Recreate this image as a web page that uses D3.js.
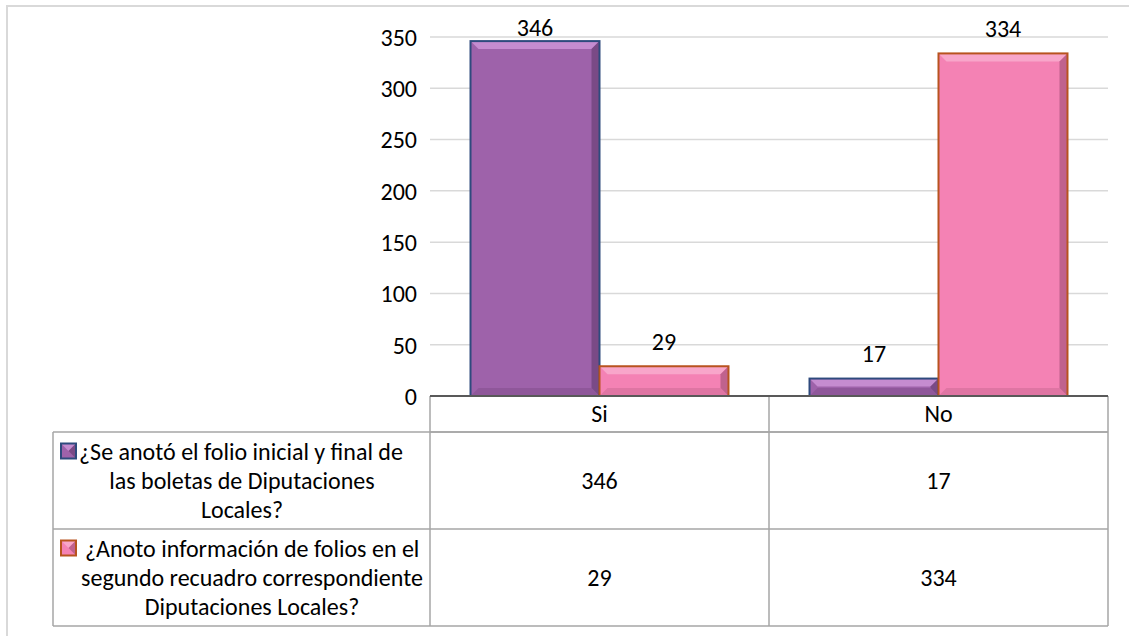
<!DOCTYPE html>
<html><head><meta charset="utf-8">
<script src="https://cdn.jsdelivr.net/npm/d3@7"></script>
<style>html,body{margin:0;padding:0;background:#fff;} svg{display:block;font-family:Carlito,Lato,"Open Sans",sans-serif;}</style>
</head><body>
<script>
const categories = ["Si", "No"];
const seriesNames = [
  ["¿Se anotó el folio inicial y final de", "las boletas de Diputaciones", "Locales?"],
  ["¿Anoto información de folios en el", "segundo recuadro correspondiente", "Diputaciones Locales?"]
];
const seriesA = [346, 17];
const seriesB = [29, 334];
const yTicks = [0, 50, 100, 150, 200, 250, 300, 350];

const W = 1129, H = 636;
const svg = d3.select("body").append("svg").attr("width", W).attr("height", H);
const FS = 24;
const palette = [
  {face:"#9e62aa", light:"#c58cd0", dark:"#7a4a86", bottom:"#85508f", stroke:"#2e4a7d"},
  {face:"#f482b4", light:"#f8a6ca", dark:"#c0628d", bottom:"#d06c98", stroke:"#b8531f"}
];
const series = [seriesA, seriesB];

// outer frame
svg.append("rect").attr("x",7).attr("y",6).attr("width",W).attr("height",H)
  .attr("fill","none").attr("stroke","#d9d9d9").attr("stroke-width",2);

const x0 = d3.scaleBand().domain(categories).range([430,1108]).paddingInner(0).paddingOuter(0);
const x1 = d3.scaleBand().domain([0,1]).range([0, x0.bandwidth()]).paddingOuter(0.314).paddingInner(0);
const y = d3.scaleLinear().domain([0,350]).range([396,37]);

// gridlines
svg.append("g").selectAll("line").data(yTicks.filter(d=>d>0)).join("line")
  .attr("x1",430).attr("x2",1108).attr("y1",d=>y(d)).attr("y2",d=>y(d))
  .attr("stroke","#d9d9d9").attr("stroke-width",1.5);

// y axis labels
const yAxis = d3.axisLeft(y).tickValues(yTicks).tickSize(0).tickPadding(13);
const ga = svg.append("g").attr("transform","translate(430,0)").call(yAxis);
ga.select(".domain").remove();
ga.selectAll("text").attr("font-size",FS).attr("fill","#000").attr("font-family","Carlito,Lato,sans-serif").attr("dy","0.35em");

// bars
function bevelBar(g, x, yTop, w, h, c){
  const b = Math.min(8, h/2);
  g.append("rect").attr("x",x).attr("y",yTop).attr("width",w).attr("height",h).attr("fill",c.face);
  g.append("polygon").attr("points",[[x,yTop],[x+w,yTop],[x+w-b,yTop+b],[x+b,yTop+b]].join(" ")).attr("fill",c.light);
  g.append("polygon").attr("points",[[x+w,yTop],[x+w,yTop+h],[x+w-b,yTop+h-b],[x+w-b,yTop+b]].join(" ")).attr("fill",c.dark);
  g.append("polygon").attr("points",[[x,yTop+h],[x+w,yTop+h],[x+w-b,yTop+h-b],[x+b,yTop+h-b]].join(" ")).attr("fill",c.bottom).attr("opacity",0.6);
  g.append("rect").attr("x",x).attr("y",yTop).attr("width",w).attr("height",h).attr("fill","none").attr("stroke",c.stroke).attr("stroke-width",2);
}
const barsG = svg.append("g");
categories.forEach((cat,ci)=>{
  series.forEach((s,si)=>{
    const v = s[ci];
    const bx = x0(cat)+x1(si), bw = x1.bandwidth();
    bevelBar(barsG, bx, y(v), bw, y(0)-y(v), palette[si]);
    const cy = Math.max(y(v)-25, 28);
    barsG.append("text").attr("x",bx+bw/2).attr("y",cy).attr("dy","0.35em")
      .attr("text-anchor","middle").attr("font-size",FS).text(v);
  });
});

// data table
const tb = svg.append("g").attr("fill","none").attr("stroke","#a6a6a6").attr("stroke-width",1.5);
const rowY = [396, 432, 529, 626];
const leftX = 53;
tb.append("line").attr("x1",430).attr("x2",1108).attr("y1",rowY[1]).attr("y2",rowY[1]);
tb.append("line").attr("x1",leftX).attr("x2",1108).attr("y1",rowY[1]).attr("y2",rowY[1]);
tb.append("line").attr("x1",leftX).attr("x2",1108).attr("y1",rowY[2]).attr("y2",rowY[2]);
tb.append("line").attr("x1",leftX).attr("x2",1108).attr("y1",rowY[3]).attr("y2",rowY[3]);
tb.append("line").attr("x1",leftX).attr("x2",leftX).attr("y1",rowY[1]).attr("y2",rowY[3]);
[430, 430+x0.bandwidth(), 1108].forEach(xv=>{
  tb.append("line").attr("x1",xv).attr("x2",xv).attr("y1",rowY[0]).attr("y2",rowY[3]);
});
svg.append("line").attr("x1",430).attr("x2",1108).attr("y1",396).attr("y2",396).attr("stroke","#595959").attr("stroke-width",2);

// header
categories.forEach(cat=>{
  svg.append("text").attr("x",x0(cat)+x0.bandwidth()/2).attr("y",(rowY[0]+rowY[1])/2).attr("dy","0.35em")
    .attr("text-anchor","middle").attr("font-size",FS).text(cat);
});
// rows
const lineH = 29;
const rowCenters = [242, 252];
const firstLineStart = [79, 85];
series.forEach((s,si)=>{
  const top = rowY[si+1], bot = rowY[si+2], mid = (top+bot)/2;
  const lines = seriesNames[si];
  lines.forEach((ln,li)=>{
    const ty = mid + (li-1)*lineH;
    const t = svg.append("text").attr("y",ty).attr("dy","0.35em").attr("font-size",FS).text(ln);
    if(li===0){
      t.attr("x", firstLineStart[si]).attr("text-anchor","start");
      const ix = 61, iy = ty - 8, sz = 15;
      const c = palette[si];
      const g = svg.append("g");
      g.append("rect").attr("x",ix).attr("y",iy).attr("width",sz).attr("height",sz).attr("fill",c.face);
      g.append("polygon").attr("points",[[ix,iy],[ix+sz,iy],[ix+sz/2,iy+sz/2]].join(" ")).attr("fill",c.light);
      g.append("polygon").attr("points",[[ix+sz,iy],[ix+sz,iy+sz],[ix+sz/2,iy+sz/2]].join(" ")).attr("fill",c.dark);
      g.append("rect").attr("x",ix).attr("y",iy).attr("width",sz).attr("height",sz).attr("fill","none").attr("stroke",c.stroke).attr("stroke-width",2);
    } else {
      t.attr("x", rowCenters[si]).attr("text-anchor","middle");
    }
  });
  categories.forEach((cat,ci)=>{
    svg.append("text").attr("x",x0(cat)+x0.bandwidth()/2).attr("y",mid).attr("dy","0.35em")
      .attr("text-anchor","middle").attr("font-size",FS).text(s[ci]);
  });
});
</script>
</body></html>
